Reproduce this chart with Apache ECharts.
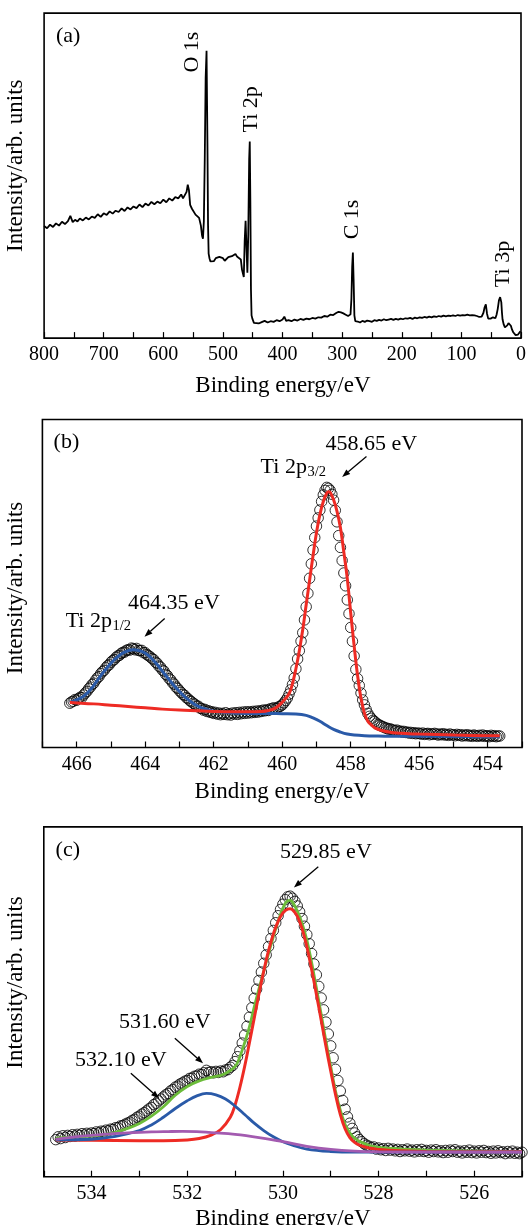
<!DOCTYPE html>
<html>
<head>
<meta charset="utf-8">
<script src="https://cdn.jsdelivr.net/npm/echarts@6/dist/echarts.min.js"></script>
<style>
  html, body { margin: 0; padding: 0; background: #fff; }
  #chart { width: 529px; height: 1225px; }
</style>
</head>
<body>
<div id="chart"></div>
<script>
// ---------------- data ----------------
// (a) XPS survey: [binding energy / eV, intensity / a.u.]
const surveySpectrum = [
  [800,34.5],[795,33.8],[790,34.9],[785,34.2],[780,35.3],[775,34.6],[770,35.8],[765,35.1],[760,36.0],[756,37.6],
  [752,35.7],[748,36.4],[744,35.9],[740,36.8],[735,36.2],[730,37.1],[725,36.5],[720,37.4],[715,37.0],[710,38.1],
  [705,37.3],[700,38.4],[695,37.9],[690,39.0],[685,38.3],[680,39.2],[675,38.8],[670,39.9],[665,39.1],[660,40.2],
  [655,39.6],[650,40.5],[645,40.0],[640,41.1],[635,40.3],[630,41.4],[625,40.8],[620,41.9],[615,41.2],[610,42.0],
  [605,41.5],[600,42.6],[595,41.8],[590,43.0],[585,42.3],[580,43.4],[575,43.0],[570,44.2],[567,43.0],[564,42.6],
  [561,45.0],[559,47.2],[557,45.5],[555,41.0],[552,39.8],[549,39.2],[546,38.0],[543,37.4],[540,37.0],[537,34.6],
  [535,31.5],[533.5,30.6],[532,36],[530.5,55],[529,80],[527.5,88.4],[526,60],[525,35],[524,26],[522.5,24.5],
  [521,23.6],[518,24.2],[515,23.7],[512,24.6],[509,24.0],[506,25.0],[503,25.3],[500,24.6],[497,23.8],[494,24.3],
  [491,24.9],[488,24.4],[485,25.2],[482,25.0],[479,25.9],[476,25.0],[473,25.6],[470,24.2],[468,21.0],[465,18.8],
  [463.5,30],[462,36.1],[460.5,28],[459,20.1],[457.5,32],[456,55],[455,60.5],[454,42],[453,15],[452,7],
  [450.5,5.9],[448,4.7],[445,5.0],[440,4.5],[435,4.9],[430,5.3],[425,4.8],[420,5.2],[415,5.0],[410,5.5],
  [405,5.2],[400,5.7],[397,6.6],[394,5.3],[390,5.5],[385,5.2],[380,5.7],[375,5.4],[370,5.9],[365,5.6],
  [360,6.0],[355,5.8],[350,6.2],[345,6.0],[340,6.4],[335,6.3],[330,6.8],[325,6.6],[320,7.2],[315,7.1],
  [310,7.7],[306,8.1],[302,7.9],[298,7.6],[294,7.2],[290,6.8],[286,7.3],[284.5,12],[283.2,22],[282,26.3],
  [280.8,18],[279.5,7],[278,5.2],[274,5.1],[270,4.8],[266,5.3],[262,5.0],[258,5.4],[254,5.2],[250,5.0],
  [246,5.5],[242,5.3],[238,5.6],[234,5.4],[230,5.8],[226,5.5],[222,5.7],[218,5.9],[214,5.6],[210,5.9],
  [206,5.7],[202,6.0],[198,5.8],[194,6.1],[190,6.0],[186,6.2],[182,5.9],[178,6.3],[174,6.1],[170,6.4],
  [166,6.2],[162,6.5],[158,6.3],[154,6.6],[150,6.4],[146,6.7],[142,6.5],[138,6.8],[134,6.6],[130,6.9],
  [126,6.7],[122,6.9],[118,6.8],[114,7.0],[110,6.8],[106,7.1],[102,6.9],[98,7.1],[94,7.0],[90,7.2],
  [86,7.0],[82,7.1],[78,7.0],[74,6.8],[70,6.5],[66,6.6],[63,7.8],[61,9.5],[59,10.4],[57,7.5],
  [55,6.0],[53,5.6],[51,6.0],[49,6.3],[47,6.4],[45,6.0],[43,6.1],[41,7.2],[39,9.0],[37,11.6],
  [35,12.6],[34,13.0],[33,11.0],[32,8.0],[31,5.8],[29,4.2],[27,3.3],[25,3.2],[23,3.9],[21,4.6],
  [19,4.9],[18,4.7],[17,3.8],[15,2.6],[13,1.8],[11,1.2],[9,0.9],[7,0.8],[5,1.1],[3,1.7],[1,2.1]
];
const surveyPeakNames = ['O 1s', 'Ti 2p', 'C 1s', 'Ti 3p'];

// (b) Ti 2p high-resolution scan, sampled every 0.05 eV from 466.20 eV downwards
const tiFirstEnergy = 466.2;
const tiEnergyStep = 0.05;
const tiCounts = [
  13.5,13.9,14.1,14.6,14.4,14.9,15.3,15.2,16.0,16.6,
  17.1,17.9,18.4,19.2,19.6,20.5,21.2,21.6,22.5,23.1,
  23.5,24.3,24.9,25.2,26.0,26.5,26.8,27.5,27.9,28.1,
  28.7,29.0,29.1,29.6,29.8,29.7,30.3,30.1,29.8,30.2,
  29.6,29.5,29.6,28.9,28.9,28.3,28.0,27.6,27.1,26.8,
  26.0,25.7,24.8,24.5,23.6,23.3,22.3,21.9,21.0,20.6,
  19.7,19.3,18.4,18.0,17.3,16.8,16.2,15.9,15.2,14.9,
  14.3,14.0,13.5,13.2,12.6,12.6,12.0,11.9,11.4,11.6,
  11.0,11.2,10.7,10.9,10.4,10.7,10.2,10.5,10.0,10.4,
  10.1,10.6,10.0,10.3,9.9,10.5,10.2,10.6,10.1,10.7,
  10.3,10.8,10.4,10.9,10.5,10.9,10.6,11.0,10.7,11.1,
  10.8,11.2,11.0,11.4,11.2,11.5,11.3,11.8,11.7,12.1,
  11.9,12.0,12.4,12.6,13.0,13.6,14.3,15.1,16.3,17.6,
  19.2,21.2,24.0,27.0,29.5,32.4,35.0,38.9,42.9,47.0,
  51.6,56.0,60.2,64.0,67.5,70.0,72.4,75.0,77.0,78.4,
  79.3,79.0,78.4,77.2,75.4,72.3,68.8,64.6,61.0,57.0,
  53.2,49.3,45.0,40.8,36.6,32.4,27.9,23.8,21.0,18.9,
  16.6,14.5,13.0,11.6,10.4,9.5,8.9,8.3,7.9,7.4,
  7.0,6.8,6.5,6.3,6.0,5.9,5.6,5.7,5.4,5.3,
  5.1,5.3,4.9,5.0,4.7,4.9,4.6,4.7,4.4,4.6,
  4.3,4.5,4.2,4.4,4.3,4.1,4.4,4.0,4.2,4.3,
  3.9,4.2,4.0,4.3,4.1,3.8,4.1,3.9,4.2,3.8,
  4.0,3.7,4.1,3.8,3.9,3.6,4.0,3.7,3.9,3.5,
  3.8,3.6,3.9,3.5,3.7,3.4,3.8,3.6,3.4,3.7,
  3.5,3.8,3.4,3.6,3.5,3.3,3.7,3.4,3.6,3.3,
  3.5,3.5
];
const tiPeakEnergies = [458.65, 464.35];   // Ti 2p3/2, Ti 2p1/2
// Ti 2p3/2 component with background
const tiFit32Energy = [466.2,466.0,465.5,465.0,464.5,464.0,463.5,463.0,462.5,462.0,461.5,461.0,460.6,460.4,460.2,460.0,459.8,459.7,459.6,459.5,459.4,459.3,459.2,459.1,459.0,458.9,458.8,458.7,458.65,458.6,458.5,458.4,458.3,458.2,458.1,458.0,457.9,457.8,457.7,457.6,457.5,457.4,457.3,457.1,456.8,456.4,456.0,455.0,454.0,453.65];
const tiFit32 = [13.7,13.6,13.3,12.9,12.5,12.1,11.7,11.4,11.2,11.0,10.9,10.9,11.0,11.3,12.0,13.8,16.4,19.5,24.0,29.5,36.0,43.5,51.0,58.5,65.5,71.0,75.0,77.5,78.0,77.8,75.5,72.0,67.0,59.5,51.5,41.0,31.0,22.0,15.0,10.5,8.0,6.9,6.0,5.2,4.6,4.3,4.1,3.8,3.6,3.6];
// Ti 2p1/2 component with background
const tiFit12Energy = [466.2,466.0,465.8,465.6,465.4,465.2,465.0,464.8,464.6,464.35,464.1,463.9,463.7,463.5,463.3,463.1,462.9,462.7,462.5,462.3,462.1,461.8,461.4,461.0,460.5,460.0,459.6,459.3,459.1,458.9,458.7,458.5,458.3,458.1,457.9,457.6,457.2,456.5,455.5,454.5,453.65];
const tiFit12 = [13.7,14.5,15.6,17.6,20.4,23.2,25.7,27.7,29.1,29.8,29.3,28.0,25.9,23.3,20.7,18.2,16.0,14.2,12.8,11.9,11.3,10.8,10.5,10.4,10.4,10.3,10.2,9.8,9.0,8.0,6.7,5.5,4.7,4.1,3.8,3.6,3.5,3.4,3.4,3.3,3.3];

// (c) O 1s high-resolution scan, sampled every 0.05 eV from 534.75 eV downwards
const oFirstEnergy = 534.75;
const oEnergyStep = 0.05;
const oCounts = [
  10.6,11.4,10.9,11.7,11.2,11.8,11.5,12.0,11.6,12.1,
  11.8,12.3,11.9,12.4,12.1,12.5,12.3,12.8,12.5,13.0,
  12.8,13.3,13.1,13.6,13.5,14.0,14.0,14.5,14.6,15.0,
  15.3,15.6,16.1,16.4,17.0,17.3,17.9,18.3,18.8,19.4,
  19.8,20.6,21.0,21.7,22.2,22.8,23.4,23.8,24.5,24.9,
  25.6,25.9,26.5,26.8,27.3,27.5,28.1,28.2,28.7,28.8,
  29.3,29.2,29.7,30.4,29.8,30.0,29.7,30.1,29.8,30.2,
  30.0,30.5,30.6,31.3,31.8,32.9,34.3,36.0,38.2,40.5,
  43.0,45.6,48.3,51.0,53.6,56.1,58.5,61.0,63.4,65.8,
  68.1,70.4,72.6,74.6,76.4,77.9,79.2,80.0,80.2,79.6,
  78.7,77.4,75.7,73.8,71.6,69.2,66.6,63.8,60.8,57.7,
  54.4,51.1,47.7,44.2,40.8,37.4,34.0,30.7,27.5,24.5,
  21.8,19.3,17.1,15.3,13.8,12.5,11.4,10.6,10.0,9.4,
  9.0,8.7,8.3,8.5,7.9,8.2,7.7,8.0,7.5,8.1,
  7.6,7.9,7.4,7.8,7.2,7.7,7.4,7.9,7.3,7.6,
  7.1,7.7,7.3,7.8,7.2,7.5,7.0,7.6,7.2,7.7,
  7.1,7.4,6.9,7.5,7.0,7.6,7.2,7.7,7.0,7.3,
  6.8,7.4,7.0,7.6,6.9,7.3,6.8,7.4,7.0,7.5,
  6.9,7.2,6.7,7.3,6.8,7.4,6.9,7.1,6.6,7.2,
  6.8,7.3,6.7,7.0,6.6,7.0
];
const oPeakEnergies = [529.85, 531.60, 532.10];
// overall envelope
const oEnvelopeEnergy = [534.75,534.5,534.0,533.75,533.5,533.25,533.0,532.75,532.5,532.25,532.0,531.75,531.5,531.25,531.0,530.9,530.8,530.7,530.6,530.5,530.4,530.3,530.2,530.1,530.0,529.9,529.85,529.8,529.7,529.6,529.5,529.4,529.3,529.2,529.1,529.0,528.9,528.8,528.7,528.6,528.5,528.4,528.2,528.0,527.5,527.0,526.0,525.0];
const oEnvelope = [11.0,11.2,11.6,12.0,12.7,13.8,15.2,17.3,20.0,23.3,25.8,27.4,28.4,29.2,31.5,34.3,38.3,42.8,48.5,53.8,58.8,63.8,68.6,73.0,76.8,78.9,79.0,78.5,76.0,72.5,67.7,61.3,54.0,46.5,38.8,31.5,24.5,19.0,15.0,12.5,11.0,10.1,9.0,8.4,7.9,7.6,7.3,7.1];
// lattice oxygen component (529.85 eV)
const oLatticeEnergy = [534.75,534.0,533.0,532.5,532.0,531.75,531.5,531.3,531.1,531.0,530.9,530.8,530.7,530.6,530.5,530.4,530.3,530.2,530.1,530.0,529.9,529.85,529.8,529.7,529.6,529.5,529.4,529.3,529.2,529.1,529.0,528.9,528.8,528.7,528.6,528.5,528.4,528.2,528.0,527.5,527.0,526.0,525.0];
const oLattice = [10.5,10.4,10.3,10.3,10.5,10.9,11.9,13.5,17.0,20.5,25.5,31.5,38.3,45.3,52.3,58.8,64.6,69.4,73.0,75.4,76.5,76.6,76.3,74.5,71.0,65.8,59.3,52.2,44.8,37.3,30.2,23.5,17.8,13.7,11.2,9.8,9.0,8.2,7.8,7.4,7.2,7.1,7.1];
// 531.60 eV component
const oHydroxylEnergy = [534.75,534.0,533.5,533.0,532.75,532.5,532.25,532.0,531.8,531.6,531.4,531.2,531.0,530.8,530.6,530.4,530.2,530.0,529.8,529.5,529.0,528.5,525.0];
const oHydroxyl = [10.5,10.7,11.5,13.2,14.8,17.0,19.5,21.7,23.1,23.8,23.4,22.2,20.2,17.8,15.3,13.2,11.4,10.0,9.0,7.9,7.2,7.0,7.0];
// 532.10 eV component
const oAdsorbedEnergy = [534.75,534.25,533.75,533.25,532.75,532.4,532.1,531.8,531.5,531.0,530.5,530.0,529.5,529.0,528.5,528.0,527.0,525.0];
const oAdsorbed = [10.7,11.5,12.1,12.5,12.8,12.9,12.95,12.9,12.6,12.1,11.2,10.0,8.7,7.8,7.3,7.1,7.0,7.0];

// ---------------- helpers ----------------
const FONT = '"Liberation Serif", "Times New Roman", serif';
const pairs = (xs, ys) => xs.map((x, i) => [x, ys[i]]);
const sampled = (first, step, ys) => ys.map((y, i) => [+(first - i * step).toFixed(2), y]);
const eV = v => v.toFixed(2) + ' eV';

const grids = [
  { left: 44.1, top: 13.1, width: 477.7, height: 325 },
  { left: 42.4, top: 419.5, width: 479.6, height: 328 },
  { left: 43.8, top: 826.9, width: 478.2, height: 349.8 }
];
const xRanges = [
  { min: 0, max: 800, interval: 50, every: 100 },
  { min: 453, max: 467, interval: 1, every: 2 },
  { min: 525, max: 535, interval: 1, every: 2 }
];

const RED = '#ee2b24', BLUE = '#2a5aa8', GREEN = '#6cbc3a', PURPLE = '#a35bb0';

const option = {
  animation: false,
  backgroundColor: '#fff',
  textStyle: { fontFamily: FONT, color: '#000' },
  grid: grids.map(g => Object.assign({ show: true, borderColor: '#000', borderWidth: 1.6, backgroundColor: 'transparent' }, g)),
  xAxis: xRanges.map((r, i) => ({
    type: 'value', gridIndex: i, inverse: true,
    min: r.min, max: r.max, interval: r.interval,
    axisLine: { show: false },
    axisTick: { show: true, inside: true, length: 6, lineStyle: { color: '#000', width: 1.2 } },
    splitLine: { show: false },
    axisLabel: {
      color: '#000', fontFamily: FONT, fontSize: 20, margin: 7,
      formatter: v => (Math.round(v) % r.every === 0 ? String(Math.round(v)) : '')
    }
  })),
  yAxis: grids.map((g, i) => ({
    type: 'value', gridIndex: i, min: 0, max: 100,
    axisLine: { show: false }, axisTick: { show: false }, axisLabel: { show: false }, splitLine: { show: false }
  })),
  series: [
    { type: 'line', xAxisIndex: 0, yAxisIndex: 0, data: surveySpectrum, showSymbol: false,
      lineStyle: { color: '#000', width: 1.8 }, z: 3 },

    { type: 'scatter', xAxisIndex: 1, yAxisIndex: 1, data: sampled(tiFirstEnergy, tiEnergyStep, tiCounts),
      symbol: 'circle', symbolSize: 10.5,
      itemStyle: { color: 'rgba(0,0,0,0)', borderColor: '#000', borderWidth: 1 }, z: 2 },
    { type: 'line', xAxisIndex: 1, yAxisIndex: 1, data: pairs(tiFit12Energy, tiFit12), showSymbol: false,
      smooth: 0.4, lineStyle: { color: BLUE, width: 3 }, z: 3 },
    { type: 'line', xAxisIndex: 1, yAxisIndex: 1, data: pairs(tiFit32Energy, tiFit32), showSymbol: false,
      smooth: 0.4, lineStyle: { color: RED, width: 3 }, z: 4 },

    { type: 'scatter', xAxisIndex: 2, yAxisIndex: 2, data: sampled(oFirstEnergy, oEnergyStep, oCounts),
      symbol: 'circle', symbolSize: 10.5,
      itemStyle: { color: 'rgba(0,0,0,0)', borderColor: '#000', borderWidth: 1 }, z: 2 },
    { type: 'line', xAxisIndex: 2, yAxisIndex: 2, data: pairs(oEnvelopeEnergy, oEnvelope), showSymbol: false,
      smooth: 0.4, lineStyle: { color: GREEN, width: 2.8 }, z: 3 },
    { type: 'line', xAxisIndex: 2, yAxisIndex: 2, data: pairs(oLatticeEnergy, oLattice), showSymbol: false,
      smooth: 0.4, lineStyle: { color: RED, width: 3 }, z: 4 },
    { type: 'line', xAxisIndex: 2, yAxisIndex: 2, data: pairs(oHydroxylEnergy, oHydroxyl), showSymbol: false,
      smooth: 0.4, lineStyle: { color: BLUE, width: 2.8 }, z: 5 },
    { type: 'line', xAxisIndex: 2, yAxisIndex: 2, data: pairs(oAdsorbedEnergy, oAdsorbed), showSymbol: false,
      smooth: 0.4, lineStyle: { color: PURPLE, width: 2.8 }, z: 6 }
  ]
};

const chart = echarts.init(document.getElementById('chart'), null, { renderer: 'canvas', width: 529, height: 1225 });
chart.setOption(option);

// ---------------- annotations ----------------
const measure = document.createElement('canvas').getContext('2d');
function textWidth(str, size) { measure.font = size + 'px ' + FONT; return measure.measureText(str).width; }
const toPx = (gi, p) => chart.convertToPixel({ gridIndex: gi }, p);

function text(x, y, str, size, extra) {
  return Object.assign({
    type: 'text', x, y, silent: true, z: 100,
    style: { text: str, font: size + 'px ' + FONT, fill: '#000',
             align: 'center', verticalAlign: 'middle', textAlign: 'center', textVerticalAlign: 'middle' }
  }, extra || {});
}
function leftText(x, y, str, size) {
  const t = text(x, y, str, size);
  t.style.align = t.style.textAlign = 'left';
  return t;
}
function arrow(gi, from, to) {
  const a = toPx(gi, from), b = toPx(gi, to);
  const dx = b[0] - a[0], dy = b[1] - a[1], len = Math.hypot(dx, dy);
  const ux = dx / len, uy = dy / len, head = 8, half = 3;
  const base = [b[0] - ux * head, b[1] - uy * head];
  return [
    { type: 'line', silent: true, z: 100, shape: { x1: a[0], y1: a[1], x2: base[0], y2: base[1] },
      style: { stroke: '#000', lineWidth: 1.3 } },
    { type: 'polygon', silent: true, z: 100,
      shape: { points: [b, [base[0] - uy * half, base[1] + ux * half], [base[0] + uy * half, base[1] - ux * half]] },
      style: { fill: '#000' } }
  ];
}
// text with a lowered subscript, placed by its left edge
function subscripted(gi, at, main, sub) {
  const p = toPx(gi, at);
  const w = textWidth(main, 22);
  return [leftText(p[0], p[1], main, 22), leftText(p[0] + w + 0.5, p[1] + 5, sub, 14.5)];
}

const elements = [];
// panel tags
['(a)', '(b)', '(c)'].forEach((tag, i) => elements.push(text(grids[i].left + 24, grids[i].top + 23, tag, 22)));
// axis titles
const yTitleCenters = [165.7, 588, 982.5];
const xTitleGaps = [48, 44, 42];
grids.forEach((g, i) => {
  elements.push(text(g.left + g.width / 2, g.top + g.height + xTitleGaps[i], 'Binding energy/eV', 23));
  elements.push(text(16, yTitleCenters[i], 'Intensity/arb. units', 23, { rotation: Math.PI / 2 }));
});
// (a) peak names, written vertically next to each line
const surveyNameAt = [[551, 88.0], [452.3, 70.4], [283.4, 36.5], [29.8, 22.8]];
surveyPeakNames.forEach((name, i) => {
  const p = toPx(0, surveyNameAt[i]);
  elements.push(text(p[0], p[1], name, 22, { rotation: Math.PI / 2 }));
});
// (b) Ti 2p doublet
[[457.40, 92.5], [463.16, 44.1]].forEach((at, i) => {
  const p = toPx(1, at);
  elements.push(text(p[0], p[1], eV(tiPeakEnergies[i]), 22));
});
elements.push(...arrow(1, [457.54, 88.7], [458.25, 82.5]));
elements.push(...arrow(1, [463.43, 39.3], [464.02, 33.8]));
elements.push(...subscripted(1, [460.63, 85.6], 'Ti 2p', '3/2'));
elements.push(...subscripted(1, [466.32, 38.4], 'Ti 2p', '1/2'));
// (c) O 1s components
[[529.10, 92.7], [532.47, 44.1], [533.39, 33.2]].forEach((at, i) => {
  const p = toPx(2, at);
  elements.push(text(p[0], p[1], eV(oPeakEnergies[i]), 22));
});
elements.push(...arrow(2, [529.26, 88.6], [529.77, 82.7]));
elements.push(...arrow(2, [532.26, 39.6], [531.67, 32.4]));
elements.push(...arrow(2, [533.18, 29.6], [532.59, 22.4]));

chart.setOption({ graphic: { elements } });
</script>
</body>
</html>
